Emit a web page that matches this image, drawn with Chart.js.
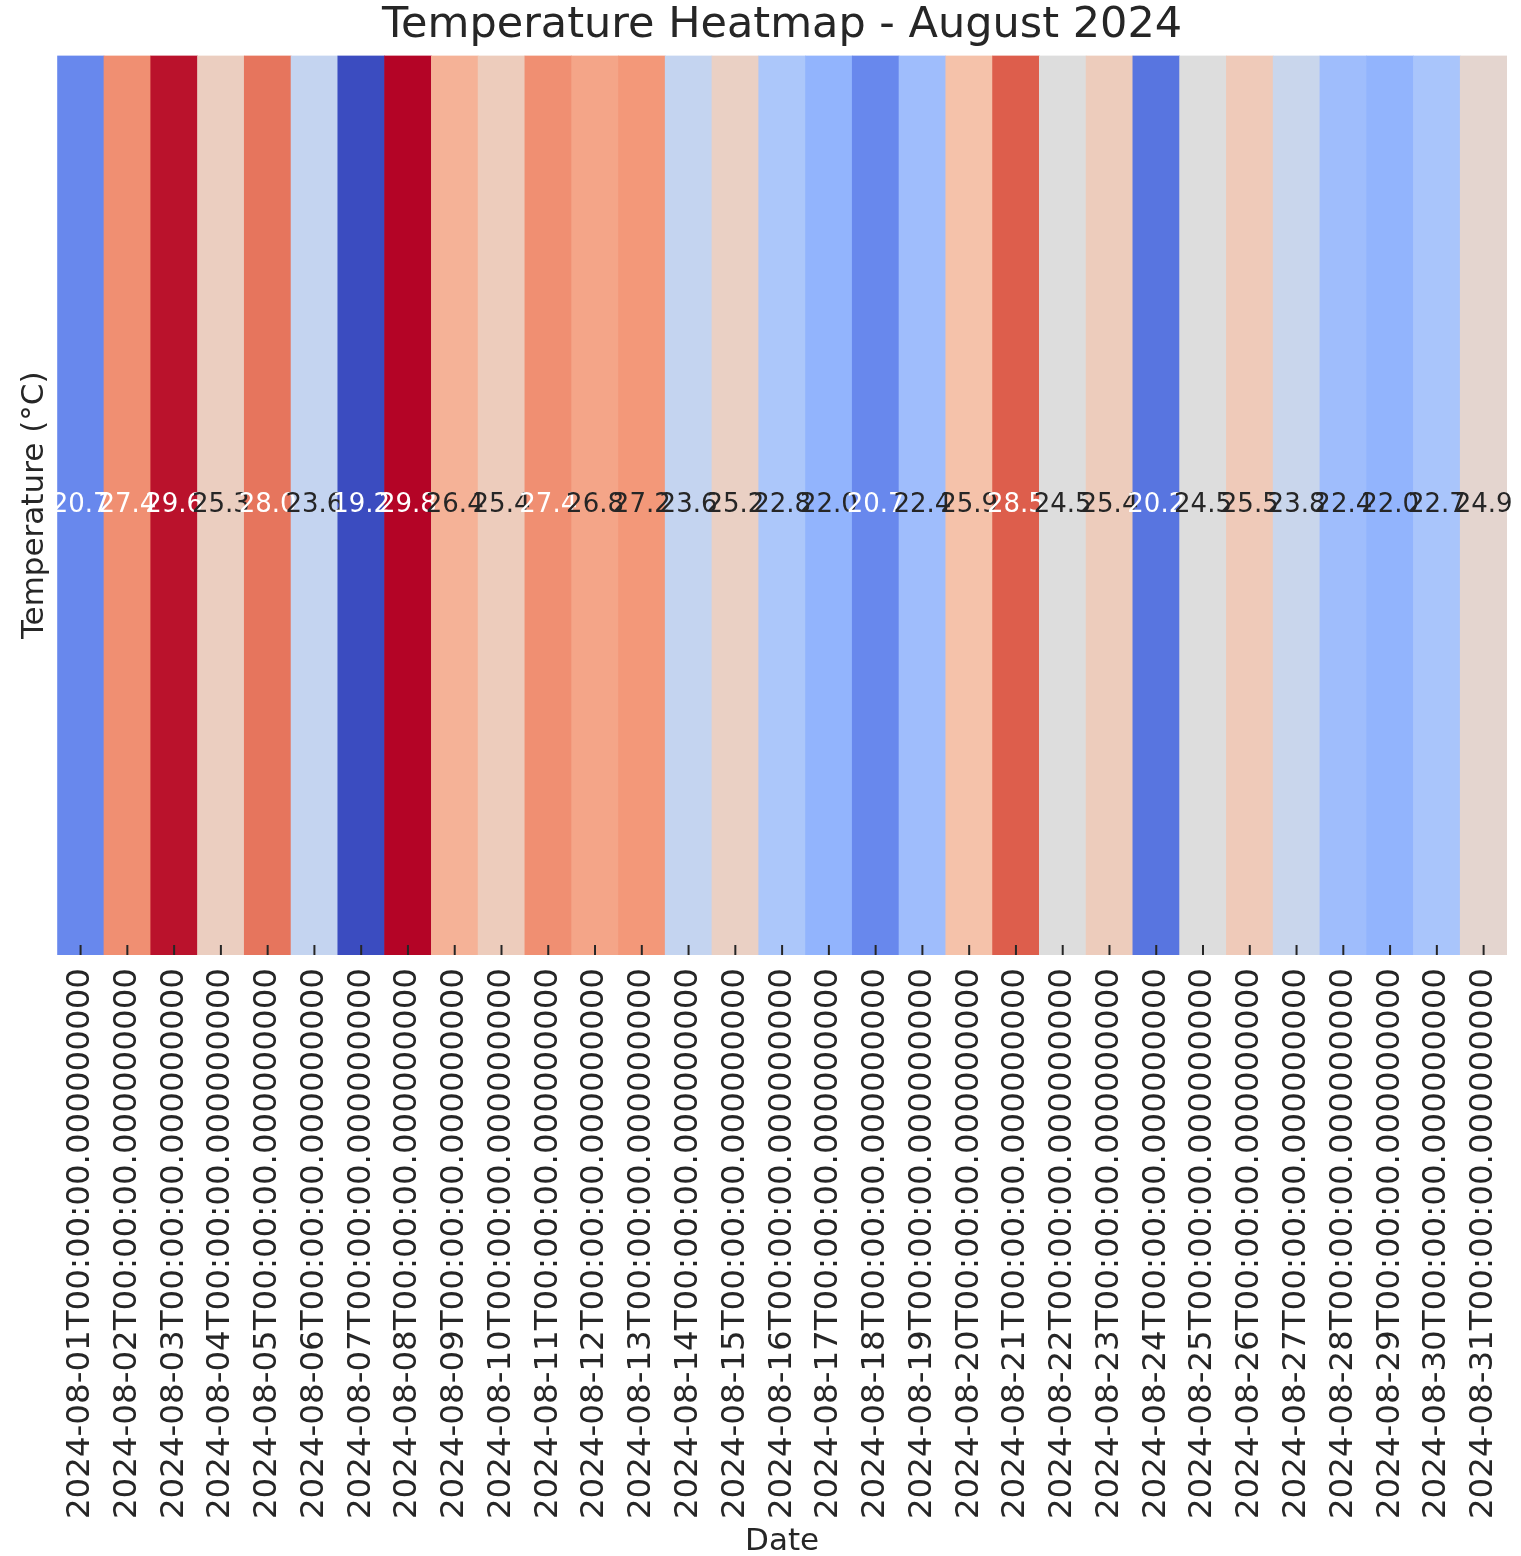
<!DOCTYPE html>
<html>
<head>
  <title>Temperature Heatmap</title>
  <script src="https://cdn.jsdelivr.net/npm/chart.js"></script>
  <style>
    body { margin: 0; background: #fff; }
    canvas { display: block; }
  </style>
</head>
<body>
  <canvas id="heat" width="1521" height="1556"></canvas>

  <script>
    const dates = Array.from({ length: 31 }, (_, i) =>
      `2024-08-${String(i + 1).padStart(2, '0')}T00:00:00.000000000`);
    const temps = [20.7, 27.4, 29.6, 25.3, 28.0, 23.6, 19.2, 29.8, 26.4, 25.4,
                   27.4, 26.8, 27.2, 23.6, 25.2, 22.8, 22.0, 20.7, 22.4, 25.9,
                   28.5, 24.5, 25.4, 20.2, 24.5, 25.5, 23.8, 22.4, 22.0, 22.7, 24.9];
    const labels = temps.map(t => t.toFixed(1));

    // coolwarm colormap anchors
    const cw = [
      [59, 76, 192], [98, 130, 234], [141, 176, 254], [184, 208, 249],
      [221, 221, 221], [245, 196, 173], [244, 154, 123], [222, 96, 77], [180, 4, 38]
    ];
    const vmin = Math.min(...temps), vmax = Math.max(...temps);

    function coolwarm(v) {
      let t = (v - vmin) / (vmax - vmin);
      t = Math.max(0, Math.min(1, t)) * (cw.length - 1);
      const i = Math.min(Math.floor(t), cw.length - 2);
      const f = t - i;
      return cw[i].map((c, k) => Math.round(c + (cw[i + 1][k] - c) * f));
    }

    function lum(rgb) {
      const l = rgb.map(c => {
        c /= 255;
        return c <= 0.03928 ? c / 12.92 : Math.pow((c + 0.055) / 1.055, 2.4);
      });
      return 0.2126 * l[0] + 0.7152 * l[1] + 0.0722 * l[2];
    }

    const cellRgb = temps.map(coolwarm);
    const colors = cellRgb.map(c => `rgb(${c[0]},${c[1]},${c[2]})`);

    const annotate = {
      id: 'annotate',
      afterDatasetsDraw(chart) {
        const { ctx, scales: { x, y }, chartArea } = chart;
        ctx.save();
        // ticks inside bottom edge
        ctx.strokeStyle = '#262626';
        ctx.lineWidth = 2;
        temps.forEach((_, i) => {
          const px = x.getPixelForValue(i);
          ctx.beginPath();
          ctx.moveTo(px, chartArea.bottom - 10);
          ctx.lineTo(px, chartArea.bottom);
          ctx.stroke();
        });
        ctx.font = '26px "DejaVu Sans"';
        ctx.textAlign = 'center';
        ctx.textBaseline = 'middle';
        const py = y.getPixelForValue(0.5);
        labels.forEach((s, i) => {
          ctx.fillStyle = lum(cellRgb[i]) > 0.408 ? '#262626' : '#ffffff';
          ctx.fillText(s, x.getPixelForValue(i), py);
        });
        ctx.restore();
      }
    };

    new Chart(document.getElementById('heat'), {
      type: 'bar',
      data: {
        labels: dates,
        datasets: [{
          data: temps.map(() => 1),
          backgroundColor: colors,
          borderWidth: 0,
          barPercentage: 1,
          categoryPercentage: 1
        }]
      },
      options: {
        responsive: false,
        animation: false,
        devicePixelRatio: 1,
        layout: { padding: { left: 12, right: 14, top: 0, bottom: 0 } },
        plugins: {
          legend: { display: false },
          tooltip: { enabled: false },
          title: {
            display: true,
            fullSize: false,
            text: 'Temperature Heatmap - August 2024',
            color: '#262626',
            font: { family: 'DejaVu Sans', size: 43, weight: 'normal' },
            padding: { top: 0, bottom: 4 }
          }
        },
        scales: {
          x: {
            afterFit(scale) {
              scale.height = 601;
              scale.paddingLeft = 0;
              scale.paddingRight = 0;
            },
            grid: { display: false, drawTicks: false },
            border: { display: false },
            ticks: {
              autoSkip: false,
              minRotation: 90,
              maxRotation: 90,
              padding: 13,
              color: '#262626',
              font: { family: 'DejaVu Sans', size: 32.5 }
            },
            title: {
              display: true,
              text: 'Date',
              color: '#262626',
              font: { family: 'DejaVu Sans', size: 31 },
              padding: { top: 0, bottom: -5 }
            }
          },
          y: {
            min: 0,
            max: 1,
            grid: { display: false, drawTicks: false },
            border: { display: false },
            ticks: { display: false },
            title: {
              display: true,
              text: 'Temperature (°C)',
              color: '#262626',
              font: { family: 'DejaVu Sans', size: 31 },
              padding: { top: 4, bottom: 4 }
            }
          }
        }
      },
      plugins: [annotate]
    });
  </script>
</body>
</html>
